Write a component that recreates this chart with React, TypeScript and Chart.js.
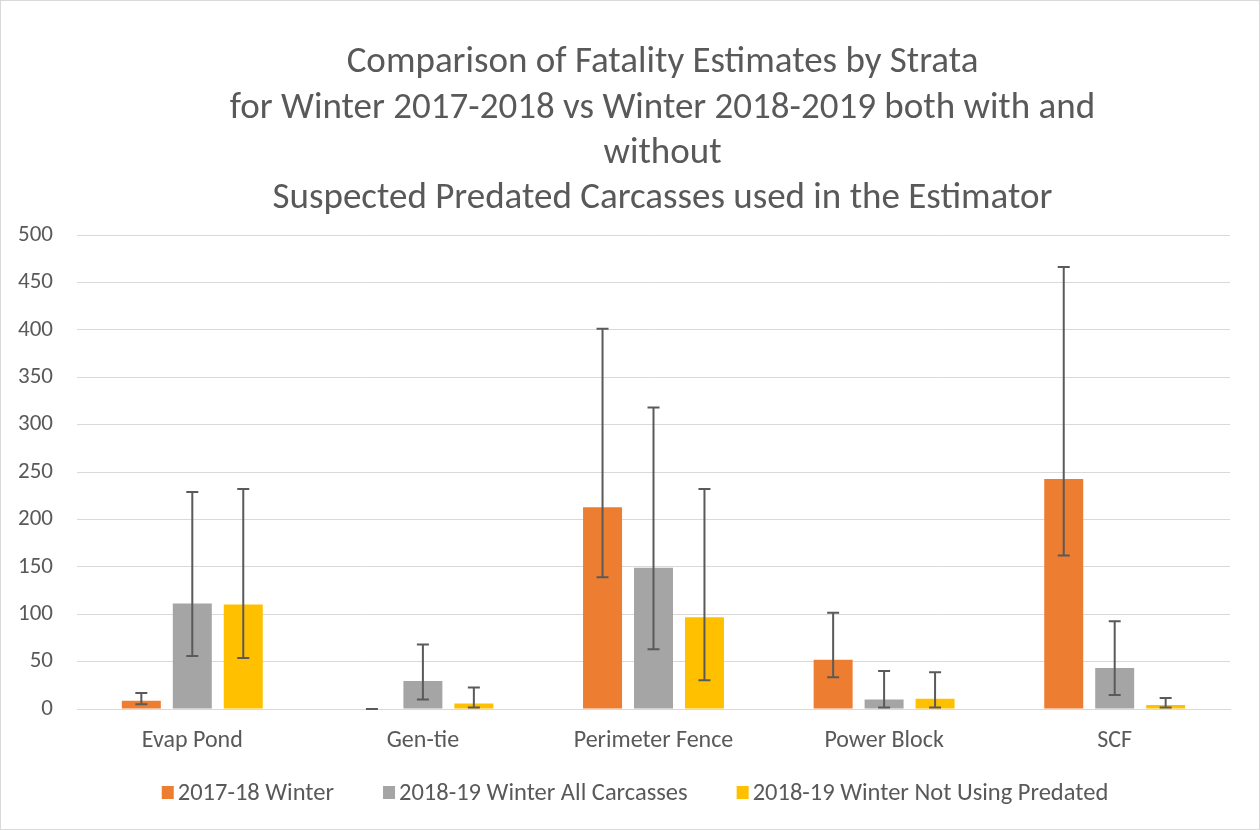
import React, { useEffect, useRef } from "react";
import { Chart, registerables } from "chart.js";

Chart.register(...registerables);

const categories = ["Evap Pond", "Gen-tie", "Perimeter Fence", "Power Block", "SCF"];

const titleLines = [
  "Comparison of Fatality Estimates by Strata",
  "for Winter 2017-2018 vs Winter 2018-2019 both with and",
  "without",
  "Suspected Predated Carcasses used in the Estimator",
];

const seriesNames = ["2017-18 Winter", "2018-19 Winter All Carcasses", "2018-19 Winter Not Using Predated"];

const winter1718 = [8.8, 0, 212.7, 52, 242.6];
const winter1718Low = [4.9, 0, 139, 33.4, 162];
const winter1718High = [16.9, 0, 401, 101.4, 466.2];

const allCarcasses = [111.3, 29.6, 149, 10.1, 43.3];
const allCarcassesLow = [56, 9.9, 63, 1.7, 14.8];
const allCarcassesHigh = [228.9, 68, 318, 40.1, 92.6];

const notPredated = [110.2, 5.7, 96.8, 10.9, 4.2];
const notPredatedLow = [53.9, 1.5, 30.3, 1.7, 1.7];
const notPredatedHigh = [232, 22.6, 232, 38.8, 11.6];

const colors = ["#ED7D31", "#A5A5A5", "#FFC000"];
const FONT = "Calibri, Carlito, Lato, 'Open Sans', sans-serif";
const TEXT = "#595959";

const errorLows = [winter1718Low, allCarcassesLow, notPredatedLow];
const errorHighs = [winter1718High, allCarcassesHigh, notPredatedHigh];

const errorBarPlugin = {
  id: "errorBars",
  afterDatasetsDraw(chart: any) {
    const ctx = chart.ctx;
    const y = chart.scales.y;
    ctx.save();
    ctx.strokeStyle = "#5A5A5A";
    ctx.lineWidth = 2;
    chart.data.datasets.forEach((_ds: any, i: number) => {
      const meta = chart.getDatasetMeta(i);
      meta.data.forEach((el: any, j: number) => {
        const x = el.x;
        const yl = y.getPixelForValue(errorLows[i][j]);
        const yh = y.getPixelForValue(errorHighs[i][j]);
        ctx.beginPath();
        ctx.moveTo(x, yl);
        ctx.lineTo(x, yh);
        ctx.moveTo(x - 6, yl);
        ctx.lineTo(x + 6, yl);
        ctx.moveTo(x - 6, yh);
        ctx.lineTo(x + 6, yh);
        ctx.stroke();
      });
    });
    ctx.restore();
  },
};

const titlePlugin = {
  id: "customTitle",
  afterDraw(chart: any) {
    const ctx = chart.ctx;
    ctx.save();
    ctx.font = `37px ${FONT}`;
    ctx.fillStyle = TEXT;
    ctx.textAlign = "center";
    ctx.textBaseline = "middle";
    const cx = (chart.chartArea.left + chart.chartArea.right) / 2 + 9;
    titleLines.forEach((line, i) => {
      ctx.fillText(line, cx, 63 + i * 45.3);
    });
    ctx.restore();
  },
};

const legendPlugin = {
  id: "customLegend",
  afterDraw(chart: any) {
    const ctx = chart.ctx;
    ctx.save();
    ctx.font = `24.5px ${FONT}`;
    ctx.textBaseline = "middle";
    ctx.textAlign = "left";
    const box = 12;
    const gap = 4;
    const itemGap = 49;
    const widths = chart.data.datasets.map((ds: any) => box + gap + ctx.measureText(ds.label).width);
    const total = widths.reduce((a: number, b: number) => a + b, 0) + itemGap * (widths.length - 1);
    let x = chart.width / 2 + 5 - total / 2;
    const yc = 794;
    chart.data.datasets.forEach((ds: any, i: number) => {
      ctx.fillStyle = ds.backgroundColor;
      ctx.fillRect(x, yc - box / 2 - 2, box, box + 1);
      ctx.fillStyle = TEXT;
      ctx.fillText(ds.label, x + box + gap, yc);
      x += widths[i] + itemGap;
    });
    ctx.restore();
  },
};

const backgroundPlugin = {
  id: "bgBorder",
  beforeDraw(chart: any) {
    const ctx = chart.ctx;
    ctx.save();
    ctx.fillStyle = "#FFFFFF";
    ctx.fillRect(0, 0, chart.width, chart.height);
    ctx.strokeStyle = "#D9D9D9";
    ctx.lineWidth = 1;
    ctx.strokeRect(0.5, 0.5, chart.width - 1, chart.height - 1);
    ctx.restore();
  },
};

export default function App() {
  const ref = useRef<HTMLCanvasElement>(null);

  useEffect(() => {
    if (!ref.current) return;
    const chart = new Chart(ref.current, {
      type: "bar",
      data: {
        labels: categories,
        datasets: [
          { label: seriesNames[0], data: winter1718, backgroundColor: colors[0] },
          { label: seriesNames[1], data: allCarcasses, backgroundColor: colors[1] },
          { label: seriesNames[2], data: notPredated, backgroundColor: colors[2] },
        ],
      },
      options: {
        responsive: false,
        animation: false,
        datasets: {
          bar: { categoryPercentage: 0.663, barPercentage: 0.765 },
        },
        layout: { padding: { left: 0, right: 30, top: 235, bottom: 69 } },
        plugins: {
          title: { display: false },
          legend: { display: false },
          tooltip: { enabled: false },
        },
        scales: {
          x: {
            grid: { display: false, drawTicks: false },
            border: { display: true, color: "#D9D9D9", width: 1 },
            ticks: { color: TEXT, font: { family: FONT, size: 24 }, padding: 18 },
            afterFit: (s: any) => {
              s.height = 52;
            },
          },
          y: {
            min: 0,
            max: 500,
            ticks: { stepSize: 50, color: TEXT, font: { family: FONT, size: 23 }, padding: 24 },
            grid: { color: "#D9D9D9", lineWidth: 1, drawTicks: false },
            border: { display: false },
            afterFit: (s: any) => {
              s.width = 77;
            },
          },
        },
      },
      plugins: [backgroundPlugin, errorBarPlugin, titlePlugin, legendPlugin],
    });
    return () => chart.destroy();
  }, []);

  return (
    <div style={{ position: "absolute", left: 0, top: 0, width: 1260, height: 830 }}>
      <canvas ref={ref} width={1260} height={830} style={{ display: "block" }} />
    </div>
  );
}
